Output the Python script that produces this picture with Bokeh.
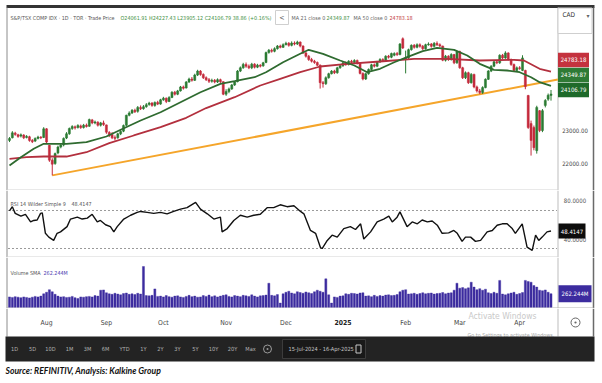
import pandas as pd
from bokeh.plotting import figure
from bokeh.models import Range1d, ColumnDataSource
from bokeh.layouts import column
from bokeh.embed import file_html
from bokeh.resources import INLINE
from bokeh.core.properties import value

# ---------------- data ----------------
HOLIDAYS = ["2024-08-05", "2024-09-02", "2024-10-14", "2024-12-25",
            "2024-12-26", "2025-01-01", "2025-02-17"]
DATES = [d for d in pd.bdate_range("2024-07-15", "2025-04-16")
         if d.strftime("%Y-%m-%d") not in HOLIDAYS]

OPEN = [22700, 22780, 22920, 22870, 22830, 22860, 22790, 22810, 22700, 22680,
        22760, 22800, 22790, 23050, 22550, 22100, 22000, 22320, 22500, 22560,
        22770, 22900, 23060, 23110, 23090, 23140, 23090, 23160, 23130, 23320,
        23230, 23250, 23160, 23230, 23170, 22940, 22880, 22790, 22780, 22900,
        22980, 23160, 23460, 23530, 23610, 23580, 23700, 23660, 23720, 23790,
        23830, 23760, 23850, 23800, 23930, 23980, 23880, 24000, 24160, 24100,
        24200, 24320, 24290, 24470, 24560, 24520, 24680, 24800, 24700, 24600,
        24540, 24490, 24520, 24470, 24540, 24480, 24100, 24180, 24260, 24380,
        24480, 24800, 24900, 25000, 24950, 24900, 25010, 24920, 24980, 24960,
        25060, 25360, 25430, 25400, 25480, 25560, 25520, 25600, 25640, 25580,
        25650, 25620, 25680, 25560, 25350, 25250, 25150, 25100, 25060, 24980,
        24450, 24420, 24600, 24720, 24800, 24750, 24900, 24960, 25050, 25000,
        25100, 25060, 25120, 25040, 24730, 24560, 24720, 24850, 24990, 24950,
        25080, 25150, 25120, 25250, 25220, 25280, 25330, 25300, 25780, 25150,
        25200, 25450, 25580, 25520, 25600, 25550, 25480, 25600, 25620, 25550,
        25640, 25600, 25560, 25130, 25250, 25150, 25300, 25050, 25390, 24900,
        24600, 24750, 24450, 24700, 24320, 24200, 24150, 24300, 24550, 24800,
        24950, 25080, 25050, 25280, 25200, 25350, 25150, 25000, 24820, 24900,
        24820, 24820, 24060, 23210, 23090, 22390, 23600, 23000, 23760, 23950,
        24061.91]
HIGH = [22800, 22980, 22960, 22900, 22910, 22890, 22860, 22840, 22740, 22790,
        22840, 22830, 23100, 23070, 22560, 22160, 22330, 22540, 22620, 22790,
        22950, 23090, 23160, 23150, 23190, 23180, 23200, 23210, 23360, 23350,
        23300, 23280, 23260, 23300, 23180, 22980, 22950, 22850, 22930, 23010,
        23180, 23480, 23580, 23650, 23660, 23740, 23760, 23770, 23830, 23870,
        23860, 23880, 23900, 23960, 24020, 24000, 24040, 24190, 24200, 24230,
        24350, 24360, 24500, 24600, 24620, 24720, 24840, 24830, 24730, 24640,
        24590, 24570, 24560, 24580, 24570, 24490, 24250, 24300, 24410, 24500,
        24830, 24940, 25050, 25060, 25000, 25050, 25040, 25020, 25010, 25080,
        25390, 25470, 25480, 25520, 25590, 25600, 25640, 25690, 25680, 25700,
        25700, 25720, 25700, 25580, 25400, 25290, 25200, 25140, 25090, 25000,
        24500, 24640, 24750, 24830, 24840, 24930, 25000, 25090, 25090, 25130,
        25140, 25160, 25150, 25060, 24760, 24750, 24880, 25020, 25030, 25110,
        25190, 25190, 25280, 25290, 25360, 25370, 25380, 25650, 25820, 25420,
        25480, 25610, 25620, 25640, 25640, 25590, 25630, 25670, 25650, 25680,
        25700, 25640, 25570, 25290, 25280, 25340, 25320, 25420, 25420, 24930,
        24790, 24780, 24740, 24720, 24360, 24260, 24340, 24580, 24830, 24980,
        25110, 25120, 25310, 25320, 25400, 25370, 25180, 25030, 24940, 24950,
        25280, 24840, 24080, 23300, 23150, 23750, 23620, 23650, 23950, 24120,
        24227.43]
LOW = [22650, 22760, 22840, 22780, 22790, 22740, 22760, 22660, 22620, 22650,
       22730, 22740, 22770, 22620, 22050, 21640, 21960, 22280, 22460, 22520,
       22740, 22870, 23020, 23030, 23060, 23050, 23060, 23090, 23110, 23190,
       23190, 23120, 23120, 23140, 22900, 22800, 22740, 22700, 22750, 22860,
       22950, 23130, 23430, 23500, 23530, 23540, 23620, 23630, 23690, 23750,
       23720, 23720, 23770, 23780, 23900, 23830, 23860, 23980, 24060, 24070,
       24180, 24240, 24270, 24440, 24480, 24500, 24650, 24660, 24560, 24500,
       24440, 24450, 24430, 24440, 24440, 24070, 24050, 24130, 24230, 24350,
       24460, 24770, 24870, 24900, 24860, 24860, 24880, 24890, 24910, 24930,
       25040, 25330, 25360, 25370, 25450, 25490, 25500, 25580, 25540, 25550,
       25580, 25590, 25520, 25320, 25210, 25110, 25060, 25020, 24950, 24270,
       24300, 24380, 24570, 24700, 24710, 24720, 24870, 24930, 24960, 24970,
       25020, 25030, 25000, 24700, 24520, 24530, 24690, 24820, 24910, 24920,
       25050, 25080, 25090, 25180, 25190, 25250, 25260, 25280, 25470, 24730,
       25170, 25420, 25480, 25490, 25510, 25440, 25450, 25570, 25510, 25520,
       25560, 25520, 25100, 25090, 25110, 25120, 25010, 25020, 24870, 24560,
       24560, 24410, 24420, 24280, 24150, 24100, 24110, 24280, 24530, 24770,
       24920, 25010, 25020, 25160, 25170, 25120, 24960, 24790, 24780, 24840,
       24800, 24250, 23050, 22240, 22400, 22300, 22950, 22950, 23700, 23900,
       23905.12]
CLOSE = [22760, 22930, 22880, 22820, 22870, 22780, 22820, 22700, 22660, 22760,
         22800, 22780, 23050, 22650, 22100, 21980, 22300, 22500, 22560, 22760,
         22900, 23060, 23120, 23080, 23150, 23090, 23160, 23120, 23330, 23230,
         23260, 23160, 23230, 23180, 22950, 22850, 22780, 22760, 22900, 22970,
         23150, 23460, 23530, 23610, 23570, 23700, 23660, 23720, 23780, 23830,
         23760, 23850, 23800, 23930, 23980, 23880, 24000, 24160, 24100, 24200,
         24320, 24280, 24470, 24560, 24520, 24680, 24800, 24700, 24600, 24540,
         24490, 24520, 24470, 24540, 24480, 24100, 24180, 24260, 24380, 24470,
         24800, 24900, 25000, 24950, 24900, 25010, 24920, 24980, 24950, 25050,
         25360, 25430, 25400, 25480, 25560, 25520, 25600, 25640, 25580, 25650,
         25620, 25680, 25560, 25350, 25250, 25150, 25100, 25060, 24980, 24450,
         24420, 24600, 24720, 24800, 24750, 24900, 24960, 25050, 25000, 25100,
         25060, 25120, 25040, 24730, 24560, 24720, 24850, 24990, 24950, 25080,
         25150, 25120, 25250, 25220, 25330, 25330, 25300, 25620, 25500, 25200,
         25450, 25580, 25520, 25600, 25550, 25480, 25600, 25620, 25550, 25640,
         25600, 25560, 25130, 25250, 25150, 25300, 25050, 25390, 24900, 24600,
         24750, 24450, 24700, 24320, 24200, 24150, 24300, 24550, 24800, 24950,
         25080, 25050, 25280, 25200, 25350, 25150, 25000, 24820, 24900, 24880,
         25200, 24330, 23090, 22700, 22480, 23700, 23000, 23600, 23910, 24068,
         24106.79]
VOLUME_M = [200, 190, 205, 195, 185, 200, 190, 180, 195, 210,
            200, 215, 260, 290, 340, 300, 250, 215, 200, 205,
            190, 195, 210, 185, 170, 200, 195, 205, 210, 200,
            225, 215, 330, 335, 280, 260, 250, 270, 255, 240,
            265, 275, 250, 260, 245, 270, 255, 790, 225, 220,
            230, 355, 210, 215, 200, 225, 205, 195, 215, 220,
            200, 190, 210, 230, 205, 215, 195, 200, 225, 210,
            235, 205, 220, 200, 215, 230, 240, 210, 200, 225,
            215, 205, 230, 220, 210, 240, 215, 200, 220, 225,
            235, 465, 230, 220, 245, 80, 260, 290, 310, 275,
            260, 300, 285, 270, 295, 280, 265, 300, 330, 310,
            290, 550, 240, 80, 200, 190, 215, 220, 260, 250,
            270, 265, 255, 275, 280, 215, 220, 205, 230, 210,
            225, 215, 235, 240, 225, 230, 245, 300, 330, 340,
            255, 260, 270, 250, 265, 280, 260, 270, 275, 255,
            265, 270, 285, 260, 275, 280, 330, 465, 370, 380,
            360, 375, 485, 390, 340, 360, 330, 350, 280, 265,
            290, 270, 520, 255, 240, 260, 275, 290, 250, 265,
            285, 520, 500, 485, 420, 390, 330, 320, 335, 290,
            262.244]

MA21_IDX = [0, 4, 8.5, 12, 20, 27, 34, 39, 46, 53, 60, 67, 74, 79, 86, 90, 96,
            102, 105, 110, 116, 121, 125.5, 130, 135, 139.5, 145, 150, 156,
            160.6, 165, 170, 174.6, 179, 183, 186, 190]
MA21_VAL = [21940, 22190, 22445, 22597, 22597, 22645, 22818, 23021, 23303,
            23554, 23857, 24160, 24415, 24494, 24615, 24766, 25069, 25324,
            25445, 25324, 25121, 24970, 24766, 24870, 25069, 25221, 25403,
            25506, 25445, 25273, 25021, 24839, 24818, 24766, 24615, 24463,
            24349.87]
MA50_IDX = [0, 6, 12, 20, 27, 35, 43.6, 53, 62, 69, 79, 88, 95, 102, 109,
            118.5, 130, 142, 153.6, 165, 177, 180.5, 186, 190]
MA50_VAL = [22142, 22191, 22212, 22212, 22342, 22615, 22849, 23100, 23385,
            23680, 24009, 24364, 24567, 24766, 24939, 25021, 25091, 25173,
            25173, 25121, 25142, 25121, 24870, 24783.18]
TREND_IDX = [15, 192.4]
TREND_VAL = [21640, 24545]

RSI_IDX = [0, 1, 2, 4, 5.6, 7.4, 8.5, 9.7, 10.9, 11.5, 12.6, 13.8, 15.5, 16.7,
           17.9, 20.2, 21.4, 23.8, 25.5, 27.3, 29, 30.8, 31.9, 33.7, 35.4, 36.6,
           37.8, 40.1, 42.5, 44.8, 46, 48.3, 50.6, 53, 55.3, 57.6, 60, 62.3,
           65.3, 67, 69.4, 71.7, 74, 74.6, 76.4, 78.7, 81, 83.4, 85.7, 88, 90.4,
           92.7, 95, 97.4, 99.8, 102.1, 103.3, 105.6, 107.4, 109.1, 109.7, 111.5,
           113.2, 115, 117.3, 119.6, 121.4, 123.2, 124.3, 126.7, 129, 131.3,
           133.1, 134.3, 136, 137, 139.5, 141.3, 143.1, 144.8, 146.6, 148.3,
           150.1, 151.8, 154.1, 155.9, 157.1, 158.8, 160, 161.8, 163.5, 165.3,
           167.6, 169.4, 171.1, 172.9, 174.6, 176.4, 177.5, 179.9, 181.6, 183.4,
           184.6, 185.7, 186.9, 188.6, 190]
RSI_VAL = [69.5, 74, 67, 64, 66, 58, 59.5, 60, 67, 67.5, 46, 42, 38.5, 46,
           47.5, 53, 61, 63, 61, 62, 66, 58, 59.5, 55, 53, 47.5, 53, 61, 65, 68,
           69, 68, 67, 68, 66.5, 69, 71.5, 73, 78.5, 71.5, 66.5, 61, 63, 47.5,
           51, 59.5, 65, 63, 65, 66, 73, 73, 76, 74, 75, 69, 66.5, 49, 46, 31,
           30, 38.5, 44, 42, 51, 53, 50, 56, 40, 47.5, 58, 61, 64, 58, 63, 68.5,
           53, 58, 56, 60, 58, 59, 54.5, 46, 46.5, 49, 46, 37.5, 42, 42, 37.5,
           38.5, 47.5, 49, 54.5, 56, 56, 51, 46, 56, 31.5, 28, 44, 38.5, 42,
           47.5, 48.4147]
RSI_LEVELS = [70, 30]
RSI_AXIS = [80, 40]
PRICE_TICKS = [23000, 22000]

HEADER = [("S&P/TSX COMP IDX · 1D · TOR · Trade Price", "#555555"),
          ("O24061.91 H24227.43 L23905.12 C24106.79 38.86 (+0.16%)", "#3f8f3f")]
MA_HEADER = [("MA 21 close 0", "#666666"), ("24349.87", "#3f8f3f"),
             ("MA 50 close 0", "#666666"), ("24783.18", "#c23b3b")]
BUTTONS = ["1D", "5D", "10D", "1M", "3M", "6M", "YTD", "1Y", "2Y", "3Y", "5Y",
           "10Y", "20Y", "Max"]
DATE_SPAN = "15-Jul-2024 - 16-Apr-2025"
SOURCE = "Source: REFINITIV, Analysis: Kalkine Group"

assert len(DATES) == len(OPEN) == len(HIGH) == len(LOW) == len(CLOSE) == len(VOLUME_M)

# ---------------- styling / layout ----------------
W = 602
H_P, H_R, H_V, H_B = 190, 67, 51, 75
P_LO, P_HI = 21182, 26939
R_LO, R_HI = 20.53, 91.05
V_LO, V_HI = -25, 964
LB, SEP, RB = 6.5, 557.5, 593
GREEN, RED = "#2b7b33", "#c42a3c"
MA21_C, MA50_C, TREND_C = "#2f6b30", "#b3303e", "#f5a52a"
VOL_C = "#3c2c9f"
COND = value("DejaVu Sans Condensed")

x_range = Range1d(-3.158, 208.07)


def make_fig(h, y_range):
    p = figure(width=W, height=h, x_range=x_range, y_range=y_range,
               output_backend="svg", toolbar_location=None, tools="",
               x_axis_location=None, y_axis_location=None, min_border=0)
    p.grid.visible = False
    p.outline_line_color = None
    p.background_fill_color = "white"
    p.border_fill_color = "white"
    p.extra_x_ranges = {"px": Range1d(0, W)}
    p.extra_y_ranges = {"py": Range1d(h, 0)}
    return p


def ptext(p, x, y, txt, color, size="5.4px", align="left", font=COND,
          style="normal"):
    p.text(x=[x], y=[y], text=[txt], x_range_name="px", y_range_name="py",
           text_color=color, text_font=font, text_font_size=size,
           text_align=align, text_baseline="middle", text_font_style=style)


def vline(p, x, y0, y1, color, w=1.0):
    p.segment(x0=[x], y0=[y0], x1=[x], y1=[y1], x_range_name="px",
              y_range_name="py", line_color=color, line_width=w)


def hline(p, y, x0, x1, color, w=1.0):
    p.segment(x0=[x0], y0=[y], x1=[x1], y1=[y], x_range_name="px",
              y_range_name="py", line_color=color, line_width=w)


def frame_lines(p, y0, h):
    vline(p, LB, y0, h, "#8c8c8c")
    vline(p, SEP, y0, h, "#bdbdbd")
    vline(p, RB, y0, h, "#6a6a6a", 1.5)


idx = list(range(len(DATES)))

# ---------- price panel (with header) ----------
pp = make_fig(H_P, Range1d(P_LO, P_HI))
upp = (P_HI - P_LO) / H_P
pp.quad(left=[LB - 0.5], right=[RB + 1], top=[4.5], bottom=[7.5],
        x_range_name="px", y_range_name="py", fill_color="#343434",
        line_color=None)
frame_lines(pp, 7, H_P)
hline(pp, H_P - 0.5, LB, SEP, "#d2d2d2")

pp.line(TREND_IDX, TREND_VAL, line_color=TREND_C, line_width=2)
cols = [GREEN if c >= o else RED for o, c in zip(OPEN, CLOSE)]
src = ColumnDataSource(dict(x=idx, h=HIGH, l=LOW,
                            top=[max(o, c) for o, c in zip(OPEN, CLOSE)],
                            bot=[min(o, c) for o, c in zip(OPEN, CLOSE)],
                            col=cols))
pp.segment(x0="x", y0="l", x1="x", y1="h", line_color="col", line_width=1,
           source=src)
pp.vbar(x="x", width=0.72, top="top", bottom="bot", fill_color="col",
        line_color="col", line_width=0.5, source=src)
pp.line(MA50_IDX, MA50_VAL, line_color=MA50_C, line_width=1.8)
pp.line(MA21_IDX, MA21_VAL, line_color=MA21_C, line_width=1.8)

# header
ptext(pp, 10, 17, HEADER[0][0], HEADER[0][1])
ptext(pp, 120, 17, HEADER[1][0], HEADER[1][1])
pp.quad(left=[275], right=[288], top=[10], bottom=[24], x_range_name="px",
        y_range_name="py", fill_color="white", line_color="#cfcfcf")
ptext(pp, 281.5, 17, "<", "#555555", size="7px", align="center")
for (t, c), xx in zip(MA_HEADER, [291, 326, 353, 389]):
    ptext(pp, xx, 17, t, c)

# CAD box
pp.quad(left=[SEP], right=[RB - 1.5], top=[7.5], bottom=[33],
        x_range_name="px", y_range_name="py", fill_color="white",
        line_color="#cfcfcf")
ptext(pp, 562, 14, "CAD", "#333333", size="6.5px")
ptext(pp, 586, 15, "▾", "#666666", size="6px", font=value("DejaVu Sans"))

# right price axis
pp.text(x=[574.5] * len(PRICE_TICKS), y=PRICE_TICKS,
        text=["%.2f" % t for t in PRICE_TICKS], x_range_name="px",
        text_color="#444444", text_font=COND, text_font_size="6px",
        text_align="center", text_baseline="middle")
last_c = CLOSE[-1] + 4 * upp
box_y = [last_c + 30 * upp, last_c + 15 * upp, last_c]
box_t = ["%.2f" % MA50_VAL[-1], "%.2f" % MA21_VAL[-1], "%.2f" % CLOSE[-1]]
box_c = ["#c4323e", "#2f7a35", "#1e6a2a"]
pp.rect(x=[573] * 3, y=box_y, width=31, height=14.5, height_units="screen",
        x_range_name="px", fill_color=box_c, line_color=None)
pp.text(x=[573] * 3, y=box_y, text=box_t, x_range_name="px",
        text_color="white", text_font=COND, text_font_size="6px",
        text_align="center", text_baseline="middle")

# ---------- RSI panel ----------
rp = make_fig(H_R, Range1d(R_LO, R_HI))
frame_lines(rp, 0, H_R)
hline(rp, H_R - 0.5, LB, SEP, "#d2d2d2")
rp.segment(x0=[LB + 1] * 2, x1=[SEP - 1] * 2, y0=RSI_LEVELS, y1=RSI_LEVELS,
           x_range_name="px", line_color="#9a9a9a", line_dash="2 2",
           line_width=1)
rp.line(RSI_IDX, RSI_VAL, line_color="#111111", line_width=1.4)
ptext(rp, 10, 13.5, "RSI 14 Wilder Simple 9", "#555555")
ptext(rp, 71, 13.5, "%.4f" % RSI_VAL[-1], "#555555")
rp.text(x=[574.5] * 2, y=RSI_AXIS, text=["%.4f" % v for v in RSI_AXIS],
        x_range_name="px", text_color="#555555", text_font=COND,
        text_font_size="6px", text_align="center", text_baseline="middle")
rp.rect(x=[571.5], y=[RSI_VAL[-1]], width=27, height=15, height_units="screen",
        x_range_name="px", fill_color="#0d0d0d", line_color=None)
rp.text(x=[571.5], y=[RSI_VAL[-1]], text=["%.4f" % RSI_VAL[-1]],
        x_range_name="px", text_color="white", text_font=COND,
        text_font_size="6px", text_align="center", text_baseline="middle")

# ---------- volume panel ----------
vp = make_fig(H_V, Range1d(V_LO, V_HI))
frame_lines(vp, 0, H_V)
hline(vp, H_V - 0.5, LB, RB, "#b5b5b5")
vp.vbar(x=idx, width=0.72, top=VOLUME_M, bottom=0, fill_color=VOL_C,
        line_color=VOL_C, line_width=0.4)
ptext(vp, 10, 15, "Volume SMA", "#555555")
ptext(vp, 43, 15, "%.3fM" % VOLUME_M[-1], "#4b3bb0")
vp.rect(x=[574.5], y=[VOLUME_M[-1]], width=33, height=17, height_units="screen",
        x_range_name="px", fill_color=VOL_C, line_color=None)
vp.text(x=[574.5], y=[VOLUME_M[-1]], text=["%.3fM" % VOLUME_M[-1]],
        x_range_name="px", text_color="white", text_font=COND,
        text_font_size="6px", text_align="center", text_baseline="middle")

# ---------- date axis + toolbar + source ----------
bp = figure(width=W, height=H_B, x_range=x_range, y_range=Range1d(H_B, 0),
            output_backend="svg", toolbar_location=None, tools="",
            x_axis_location=None, y_axis_location=None, min_border=0)
bp.grid.visible = False
bp.outline_line_color = None
bp.background_fill_color = "white"
bp.border_fill_color = "white"
bp.extra_x_ranges = {"px": Range1d(0, W)}
bp.extra_y_ranges = {"py": Range1d(H_B, 0)}

month_idx, month_lab = [], []
for i in range(1, len(DATES)):
    if DATES[i].month != DATES[i - 1].month:
        month_idx.append(i)
        month_lab.append(str(DATES[i].year) if DATES[i].month == 1
                         else DATES[i].strftime("%b"))
reg = [i for i, l in zip(month_idx, month_lab) if not l.isdigit()]
reg_l = [l for l in month_lab if not l.isdigit()]
yr = [i for i, l in zip(month_idx, month_lab) if l.isdigit()]
yr_l = [l for l in month_lab if l.isdigit()]
bp.text(x=reg, y=[14] * len(reg), text=reg_l, text_color="#444444",
        text_font=COND, text_font_size="6.8px", text_align="center",
        text_baseline="middle")
bp.text(x=yr, y=[14] * len(yr), text=yr_l, text_color="#222222",
        text_font=COND, text_font_size="6.8px", text_font_style="bold",
        text_align="center", text_baseline="middle")

vline(bp, LB, 0, 28, "#8c8c8c")
vline(bp, SEP, 0, 28, "#bdbdbd")
vline(bp, RB, 0, 28, "#6a6a6a", 1.5)
bp.scatter(x=[575], y=[14], marker="circle_dot", size=9, fill_color=None,
           line_color="#666666", x_range_name="px", y_range_name="py")

# watermark
ptext(bp, 468, 7, "Activate Windows", "#c9c9c9", size="8.5px")
ptext(bp, 467, 26.5, "Go to Settings to activate Windows.", "#a8a8a8",
      size="5.4px")

# toolbar
bp.quad(left=[LB - 1.5], right=[RB + 1], top=[28], bottom=[53],
        x_range_name="px", y_range_name="py", fill_color="#232323",
        line_color=None)
btn_x = [14, 32, 50, 69, 87, 105, 124, 143, 160, 177, 195, 213, 232, 250]
bp.text(x=btn_x, y=[40.5] * len(BUTTONS), text=BUTTONS, x_range_name="px",
        y_range_name="py", text_color="#b4b4b4", text_font=COND,
        text_font_size="5.6px", text_align="center", text_baseline="middle")
bp.scatter(x=[267], y=[40.5], marker="circle_dot", size=8, fill_color=None,
           line_color="#9a9a9a", x_range_name="px", y_range_name="py")
bp.quad(left=[282], right=[365], top=[31], bottom=[50], x_range_name="px",
        y_range_name="py", fill_color="#191919", line_color="#3c3c3c")
ptext(bp, 288, 40.5, DATE_SPAN, "#c8c8c8", size="5.6px")
bp.rect(x=[358], y=[40.5], width=5, height=8, x_range_name="px",
        y_range_name="py", width_units="screen", height_units="screen",
        fill_color=None, line_color="#c8c8c8", line_width=1)

# source
ptext(bp, 5, 62, SOURCE, "#111111", size="8.6px", font=value("Lato"),
      style="bold italic")

layout = column(pp, rp, vp, bp, spacing=0)
open("out.html", "w").write(file_html(layout, INLINE))
